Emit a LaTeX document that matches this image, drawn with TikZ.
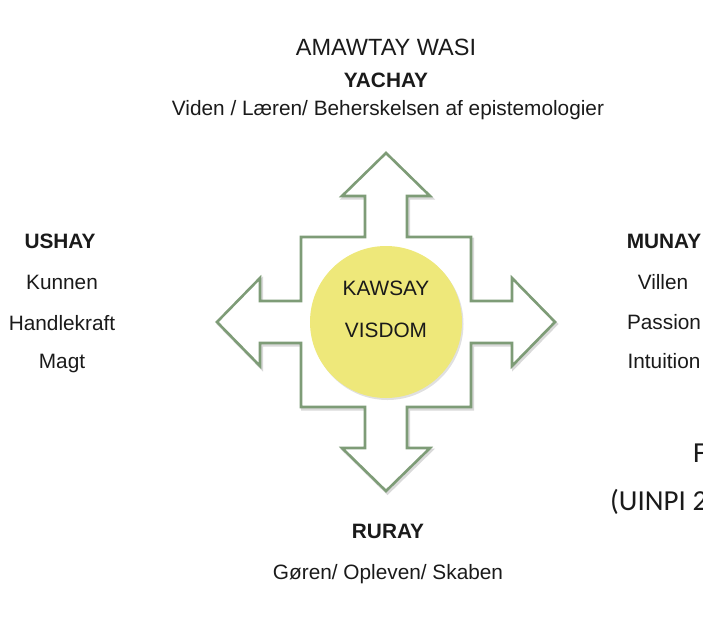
\documentclass[tikz,border=0pt]{standalone}
\usepackage{fontspec}
\setmainfont{Liberation Sans}
\newfontfamily\calibrifont{Carlito}
\usetikzlibrary{positioning}
\definecolor{leaf}{HTML}{7E9C77}
\definecolor{sun}{HTML}{EEE87A}
\definecolor{ink}{HTML}{1A1A1A}
\tikzset{
  every node/.style={text=ink,inner sep=0pt,font=\fontsize{20.8}{24}\selectfont},
  cross/.style={draw=leaf,fill=white,line width=2.6pt,line join=miter},
  crossshade/.style={draw=black,line width=3pt,opacity=.15},
  disc/.style={circle,fill=sun,minimum size=152pt},
  heading/.style={font=\fontsize{20.8}{24}\selectfont\bfseries},
  title/.style={font=\fontsize{23.5}{28}\selectfont},
  cutoff/.style={anchor=base west,font=\calibrifont\fontsize{29}{34}\selectfont}}

\begin{document}
\begin{tikzpicture}[x=1pt,y=-1pt]
\useasboundingbox (0,0) rectangle (703,619);
\clip (0,0) rectangle (703,619);
% four-way arrow round the centre
\begin{scope}[shift={(386,322)}]
\draw[crossshade,shift={(1.5,2)}] (0,-169)--(44,-126)--(21,-126)--(21,-85)--(85,-85)--(85,-21)--(126,-21)--(126,-44)--(169,0)--(126,44)--(126,21)--(85,21)--(85,85)--(21,85)--(21,126)--(44,126)--(0,169)--(-44,126)--(-21,126)--(-21,85)--(-85,85)--(-85,21)--(-126,21)--(-126,44)--(-169,0)--(-126,-44)--(-126,-21)--(-85,-21)--(-85,-85)--(-21,-85)--(-21,-126)--(-44,-126)--cycle;
\draw[cross] (0,-169)--(44,-126)--(21,-126)--(21,-85)--(85,-85)--(85,-21)--(126,-21)--(126,-44)--(169,0)--(126,44)--(126,21)--(85,21)--(85,85)--(21,85)--(21,126)--(44,126)--(0,169)--(-44,126)--(-21,126)--(-21,85)--(-85,85)--(-85,21)--(-126,21)--(-126,44)--(-169,0)--(-126,-44)--(-126,-21)--(-85,-21)--(-85,-85)--(-21,-85)--(-21,-126)--(-44,-126)--cycle;
\end{scope}
\node[disc,fill=black,opacity=.12] at (387.5,324) {};
\node[disc] (kawsay) at (386,322) {};
\node (kawsayA) at (386,288) {KAWSAY};
\node (kawsayB) at (386,330) {VISDOM};
% top
\node[title] (amawtay) at (386,47) {AMAWTAY WASI};
\node[heading] (yachay) at (386,80) {YACHAY};
\node (viden) at (388,110) {Viden / Læren/ Beherskelsen af epistemologier};
% left
\node[heading] (ushay) at (60,241) {USHAY};
\node (kunnen) at (62,282) {Kunnen};
\node (handle) at (62,323) {Handlekraft};
\node (magt) at (62,363) {Magt};
% right
\node[heading] (munay) at (664,241) {MUNAY};
\node (villen) at (663,282) {Villen};
\node (passion) at (664,322) {Passion};
\node (intuition) at (664,361) {Intuition};
% bottom
\node[heading] (ruray) at (388,531) {RURAY};
\node (goren) at (388,574) {Gøren/ Opleven/ Skaben};
% cut at the page edge
\node[cutoff] (figur) at (693,462) {F};
\node[cutoff] (uinpi) at (610,510) {(UINPI 2};
\end{tikzpicture}
\end{document}
